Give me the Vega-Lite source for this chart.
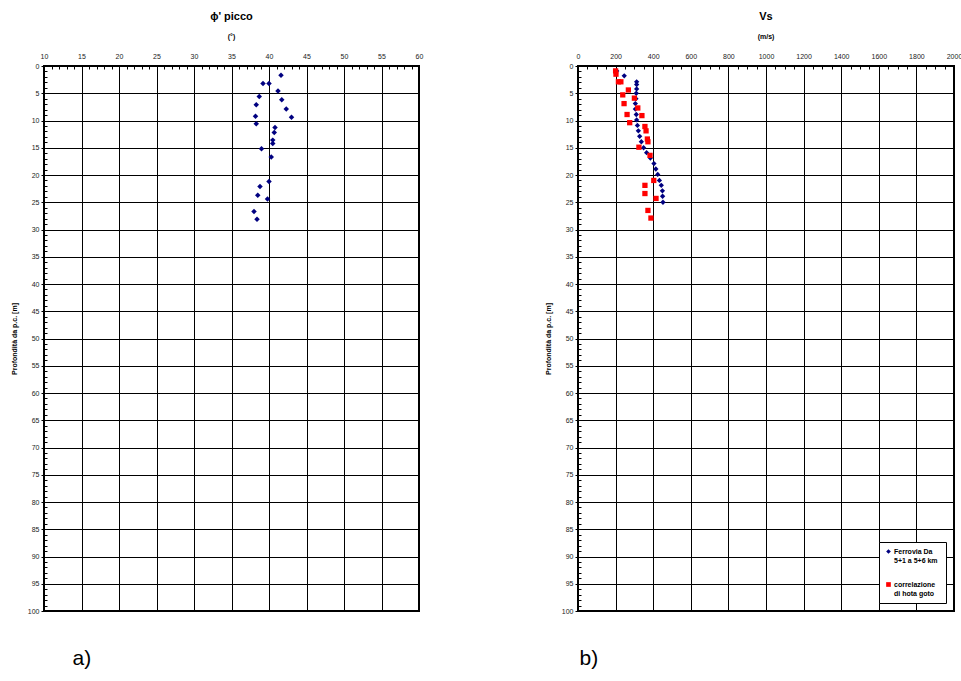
{
  "$schema": "https://vega.github.io/schema/vega-lite/v6.json",
  "background": "white",
  "padding": {"left": 9, "top": 10, "right": 0, "bottom": 0},
  "spacing": 119,
  "config": {
    "font": "Liberation Sans",
    "view": {"stroke": "#000", "strokeWidth": 2},
    "axis": {"labelFont": "Liberation Sans", "labelFontSize": 7, "labelColor": "#222", "titleFont": "Liberation Sans", "gridColor": "#000", "gridWidth": 1, "domain": false, "tickColor": "#000", "labelOverlap": false, "labelFlush": false, "tickCount": 200},
    "title": {"font": "Liberation Sans", "fontSize": 11, "fontWeight": "bold", "subtitleFont": "Liberation Sans", "subtitleFontSize": 7, "subtitleFontWeight": "bold", "subtitleColor": "#000", "anchor": "middle", "offset": 12, "subtitlePadding": 11}
  },
  "datasets": {
    "phi": [
      {"depth": 1.7, "phi": 41.6}, {"depth": 3.2, "phi": 39.2}, {"depth": 3.2, "phi": 40.0},
      {"depth": 4.6, "phi": 41.2}, {"depth": 5.6, "phi": 38.7}, {"depth": 6.2, "phi": 41.7},
      {"depth": 7.1, "phi": 38.3}, {"depth": 7.9, "phi": 42.3}, {"depth": 9.2, "phi": 38.2},
      {"depth": 9.4, "phi": 43.0}, {"depth": 10.6, "phi": 38.3}, {"depth": 11.3, "phi": 40.8},
      {"depth": 12.2, "phi": 40.7}, {"depth": 13.6, "phi": 40.5}, {"depth": 14.2, "phi": 40.5},
      {"depth": 15.2, "phi": 39.0}, {"depth": 16.7, "phi": 40.3}, {"depth": 21.2, "phi": 40.0},
      {"depth": 22.1, "phi": 38.8}, {"depth": 23.7, "phi": 38.5}, {"depth": 24.4, "phi": 39.8},
      {"depth": 26.7, "phi": 38.0}, {"depth": 28.1, "phi": 38.4}
    ],
    "vs": [
      {"depth": 0.9, "vs": 206, "series": "Ferrovia Da|5+1 a  5+6 km"},
      {"depth": 1.8, "vs": 246, "series": "Ferrovia Da|5+1 a  5+6 km"},
      {"depth": 2.9, "vs": 312, "series": "Ferrovia Da|5+1 a  5+6 km"},
      {"depth": 3.4, "vs": 312, "series": "Ferrovia Da|5+1 a  5+6 km"},
      {"depth": 4.2, "vs": 312, "series": "Ferrovia Da|5+1 a  5+6 km"},
      {"depth": 5.0, "vs": 310, "series": "Ferrovia Da|5+1 a  5+6 km"},
      {"depth": 6.0, "vs": 308, "series": "Ferrovia Da|5+1 a  5+6 km"},
      {"depth": 6.9, "vs": 305, "series": "Ferrovia Da|5+1 a  5+6 km"},
      {"depth": 7.9, "vs": 305, "series": "Ferrovia Da|5+1 a  5+6 km"},
      {"depth": 8.9, "vs": 310, "series": "Ferrovia Da|5+1 a  5+6 km"},
      {"depth": 9.9, "vs": 312, "series": "Ferrovia Da|5+1 a  5+6 km"},
      {"depth": 10.9, "vs": 316, "series": "Ferrovia Da|5+1 a  5+6 km"},
      {"depth": 11.9, "vs": 321, "series": "Ferrovia Da|5+1 a  5+6 km"},
      {"depth": 12.9, "vs": 328, "series": "Ferrovia Da|5+1 a  5+6 km"},
      {"depth": 13.9, "vs": 337, "series": "Ferrovia Da|5+1 a  5+6 km"},
      {"depth": 15.0, "vs": 349, "series": "Ferrovia Da|5+1 a  5+6 km"},
      {"depth": 15.9, "vs": 365, "series": "Ferrovia Da|5+1 a  5+6 km"},
      {"depth": 16.9, "vs": 385, "series": "Ferrovia Da|5+1 a  5+6 km"},
      {"depth": 17.9, "vs": 404, "series": "Ferrovia Da|5+1 a  5+6 km"},
      {"depth": 18.9, "vs": 414, "series": "Ferrovia Da|5+1 a  5+6 km"},
      {"depth": 19.9, "vs": 424, "series": "Ferrovia Da|5+1 a  5+6 km"},
      {"depth": 21.0, "vs": 433, "series": "Ferrovia Da|5+1 a  5+6 km"},
      {"depth": 21.9, "vs": 443, "series": "Ferrovia Da|5+1 a  5+6 km"},
      {"depth": 22.9, "vs": 449, "series": "Ferrovia Da|5+1 a  5+6 km"},
      {"depth": 23.9, "vs": 450, "series": "Ferrovia Da|5+1 a  5+6 km"},
      {"depth": 25.0, "vs": 452, "series": "Ferrovia Da|5+1 a  5+6 km"},
      {"depth": 0.9, "vs": 200, "series": "correlazione|di hota goto"},
      {"depth": 1.5, "vs": 202, "series": "correlazione|di hota goto"},
      {"depth": 2.9, "vs": 215, "series": "correlazione|di hota goto"},
      {"depth": 2.9, "vs": 228, "series": "correlazione|di hota goto"},
      {"depth": 4.4, "vs": 268, "series": "correlazione|di hota goto"},
      {"depth": 5.3, "vs": 238, "series": "correlazione|di hota goto"},
      {"depth": 5.9, "vs": 300, "series": "correlazione|di hota goto"},
      {"depth": 6.9, "vs": 245, "series": "correlazione|di hota goto"},
      {"depth": 7.7, "vs": 318, "series": "correlazione|di hota goto"},
      {"depth": 8.9, "vs": 261, "series": "correlazione|di hota goto"},
      {"depth": 9.1, "vs": 340, "series": "correlazione|di hota goto"},
      {"depth": 10.4, "vs": 275, "series": "correlazione|di hota goto"},
      {"depth": 11.1, "vs": 356, "series": "correlazione|di hota goto"},
      {"depth": 11.9, "vs": 362, "series": "correlazione|di hota goto"},
      {"depth": 13.4, "vs": 369, "series": "correlazione|di hota goto"},
      {"depth": 13.9, "vs": 372, "series": "correlazione|di hota goto"},
      {"depth": 14.9, "vs": 324, "series": "correlazione|di hota goto"},
      {"depth": 16.4, "vs": 383, "series": "correlazione|di hota goto"},
      {"depth": 21.0, "vs": 403, "series": "correlazione|di hota goto"},
      {"depth": 21.9, "vs": 356, "series": "correlazione|di hota goto"},
      {"depth": 23.4, "vs": 356, "series": "correlazione|di hota goto"},
      {"depth": 24.3, "vs": 415, "series": "correlazione|di hota goto"},
      {"depth": 26.5, "vs": 372, "series": "correlazione|di hota goto"},
      {"depth": 27.9, "vs": 388, "series": "correlazione|di hota goto"}
    ]
  },
  "resolve": {"scale": {"color": "independent", "shape": "independent"}},
  "hconcat": [
    {
      "width": 375, "height": 545,
      "title": {"text": "ϕ' picco", "subtitle": "(°)"},
      "data": {"name": "phi"},
      "resolve": {"axis": {"x": "independent"}},
      "layer": [
        {
          "mark": {"type": "point", "shape": "diamond", "filled": true, "color": "#000080", "opacity": 1, "size": 30},
          "encoding": {
            "x": {"field": "phi", "type": "quantitative", "scale": {"domain": [10, 60], "nice": false, "zero": false},
              "axis": {"orient": "top", "title": null,
                "values": [10,11,12,13,14,15,16,17,18,19,20,21,22,23,24,25,26,27,28,29,30,31,32,33,34,35,36,37,38,39,40,41,42,43,44,45,46,47,48,49,50,51,52,53,54,55,56,57,58,59,60],
                "labelExpr": "datum.value % 5 === 0 ? '' + datum.value : ''",
                "labelPadding": 7,
                "gridOpacity": {"condition": {"test": "datum.value % 5 === 0", "value": 1}, "value": 0},
                "tickSize": {"condition": {"test": "datum.value % 5 === 0", "value": 0}, "value": -3}}},
            "y": {"field": "depth", "type": "quantitative", "scale": {"domain": [0, 100], "nice": false, "reverse": true},
              "axis": {"title": "Profondità da p.c. [m]", "titleFontSize": 7, "titleFontWeight": "bold", "titlePadding": 10,
                "values": [0,1,2,3,4,5,6,7,8,9,10,11,12,13,14,15,16,17,18,19,20,21,22,23,24,25,26,27,28,29,30,31,32,33,34,35,36,37,38,39,40,41,42,43,44,45,46,47,48,49,50,51,52,53,54,55,56,57,58,59,60,61,62,63,64,65,66,67,68,69,70,71,72,73,74,75,76,77,78,79,80,81,82,83,84,85,86,87,88,89,90,91,92,93,94,95,96,97,98,99,100],
                "labelExpr": "datum.value % 5 === 0 ? '' + datum.value : ''",
                "labelPadding": 2,
                "gridOpacity": {"condition": {"test": "datum.value % 5 === 0", "value": 1}, "value": 0},
                "tickSize": {"condition": {"test": "datum.value % 5 === 0", "value": 3}, "value": -3}}}
          }
        },
        {
          "mark": {"type": "point", "opacity": 0},
          "encoding": {
            "x": {"field": "phi", "type": "quantitative",
              "axis": {"orient": "bottom", "title": "a)", "titleFontSize": 21, "titleFontWeight": "normal", "titleColor": "#000", "titleAnchor": "start", "titleAlign": "left", "titleX": 28, "titlePadding": 36, "labels": false, "ticks": false, "grid": false, "domain": false}},
            "y": {"field": "depth", "type": "quantitative"}
          }
        }
      ]
    },
    {
      "width": 376, "height": 545,
      "title": {"text": "Vs", "subtitle": "(m/s)"},
      "data": {"name": "vs"},
      "resolve": {"axis": {"x": "independent"}},
      "layer": [
        {
          "mark": {"type": "point", "filled": true, "opacity": 1, "size": 28},
          "encoding": {
            "x": {"field": "vs", "type": "quantitative", "scale": {"domain": [0, 2000], "nice": false},
              "axis": {"orient": "top", "title": null,
                "values": [0,50,100,150,200,250,300,350,400,450,500,550,600,650,700,750,800,850,900,950,1000,1050,1100,1150,1200,1250,1300,1350,1400,1450,1500,1550,1600,1650,1700,1750,1800,1850,1900,1950,2000],
                "labelExpr": "datum.value % 200 === 0 ? '' + datum.value : ''",
                "labelPadding": 7,
                "gridOpacity": {"condition": {"test": "datum.value % 200 === 0", "value": 1}, "value": 0},
                "tickSize": {"condition": {"test": "datum.value % 200 === 0", "value": 0}, "value": -3}}},
            "y": {"field": "depth", "type": "quantitative", "scale": {"domain": [0, 100], "nice": false, "reverse": true},
              "axis": {"title": "Profondità da p.c. [m]", "titleFontSize": 7, "titleFontWeight": "bold", "titlePadding": 10,
                "values": [0,1,2,3,4,5,6,7,8,9,10,11,12,13,14,15,16,17,18,19,20,21,22,23,24,25,26,27,28,29,30,31,32,33,34,35,36,37,38,39,40,41,42,43,44,45,46,47,48,49,50,51,52,53,54,55,56,57,58,59,60,61,62,63,64,65,66,67,68,69,70,71,72,73,74,75,76,77,78,79,80,81,82,83,84,85,86,87,88,89,90,91,92,93,94,95,96,97,98,99,100],
                "labelExpr": "datum.value % 5 === 0 ? '' + datum.value : ''",
                "labelPadding": 2,
                "gridOpacity": {"condition": {"test": "datum.value % 5 === 0", "value": 1}, "value": 0},
                "tickSize": {"condition": {"test": "datum.value % 5 === 0", "value": 3}, "value": -3}}},
            "color": {"field": "series", "type": "nominal",
              "scale": {"domain": ["Ferrovia Da|5+1 a  5+6 km", "correlazione|di hota goto"], "range": ["#000080", "#FF0000"]},
              "legend": {"title": null, "orient": "bottom-right", "offset": 8, "fillColor": "white", "strokeColor": "#000", "padding": 6,
                "labelExpr": "split(datum.label, '|')", "labelFontSize": 7, "labelFontWeight": "bold", "labelColor": "#000", "symbolSize": 22, "rowPadding": 16, "labelOffset": 2}},
            "shape": {"field": "series", "type": "nominal",
              "scale": {"domain": ["Ferrovia Da|5+1 a  5+6 km", "correlazione|di hota goto"], "range": ["diamond", "square"]},
              "legend": null}
          }
        },
        {
          "mark": {"type": "point", "opacity": 0},
          "encoding": {
            "x": {"field": "vs", "type": "quantitative",
              "axis": {"orient": "bottom", "title": "b)", "titleFontSize": 21, "titleFontWeight": "normal", "titleColor": "#000", "titleAnchor": "start", "titleAlign": "left", "titleX": 1, "titlePadding": 36, "labels": false, "ticks": false, "grid": false, "domain": false}},
            "y": {"field": "depth", "type": "quantitative"}
          }
        }
      ]
    }
  ]
}
